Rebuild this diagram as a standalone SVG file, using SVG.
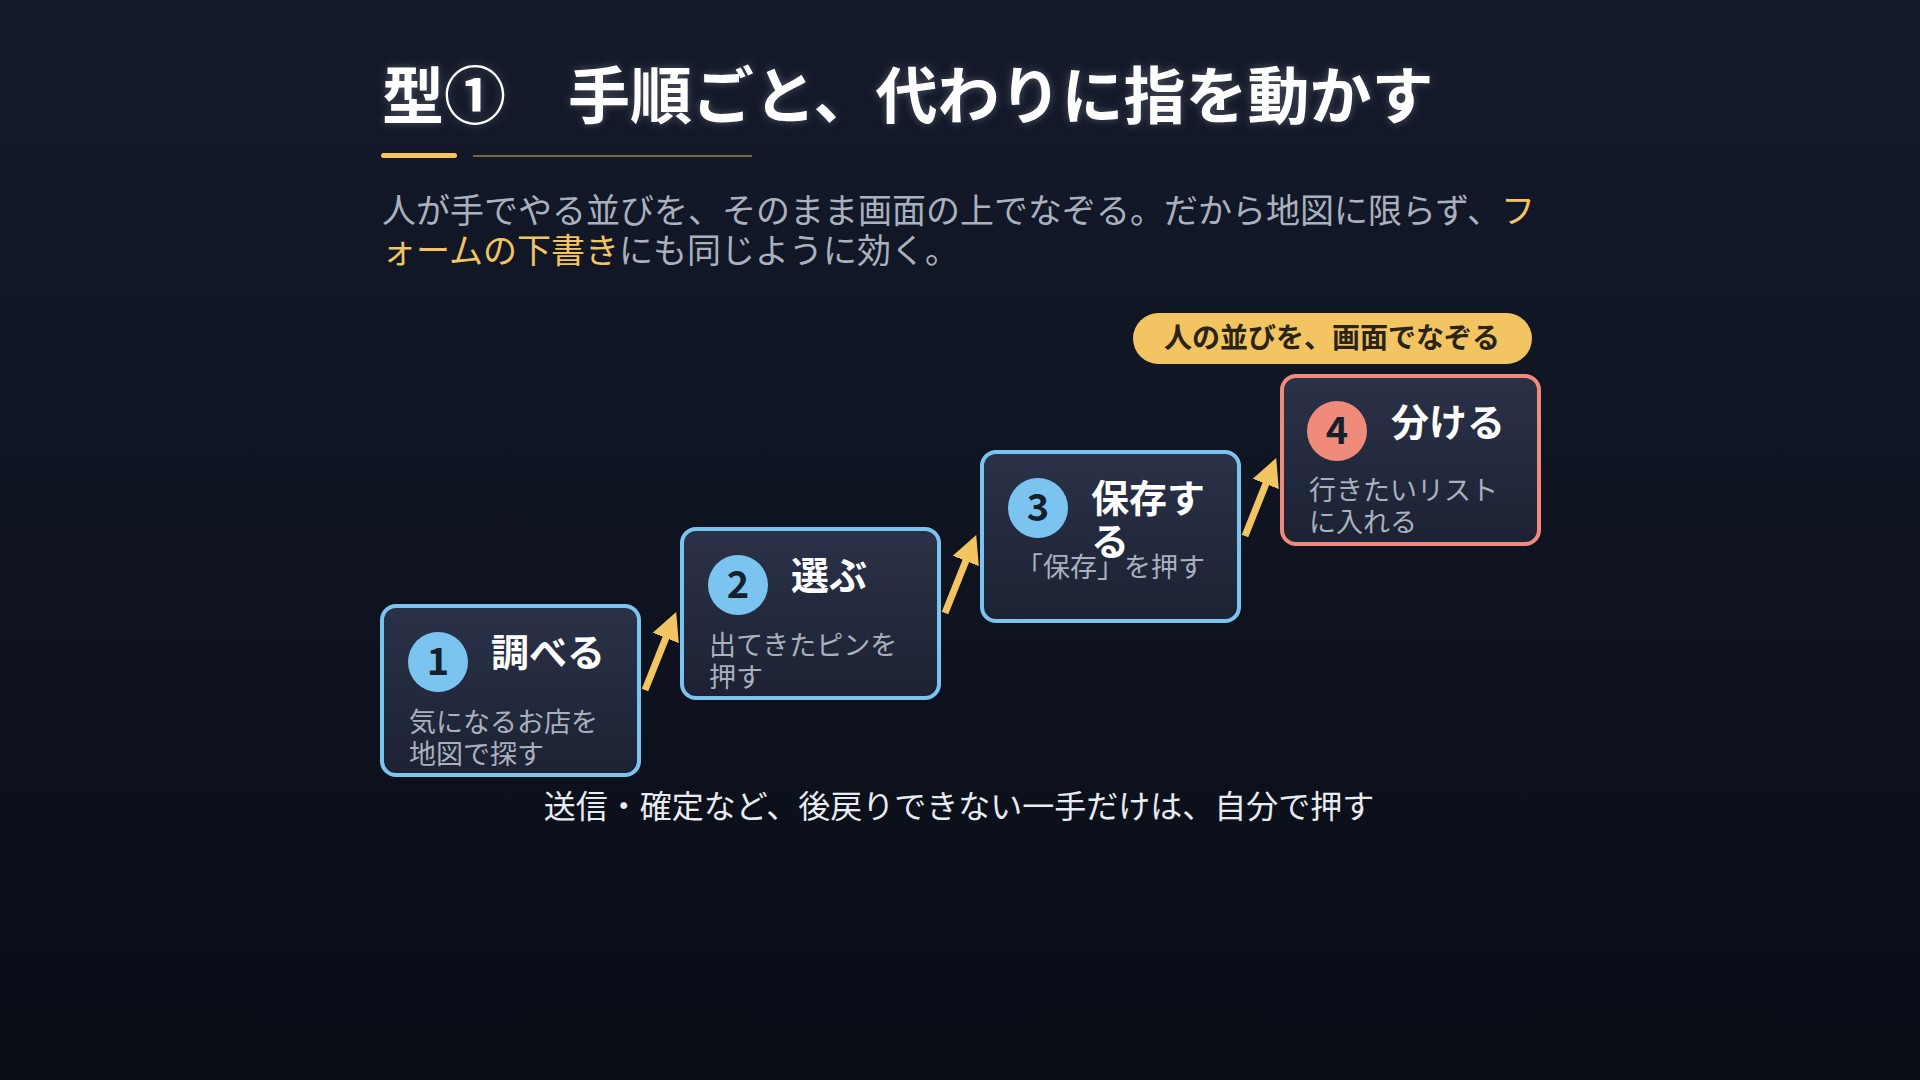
<svg xmlns="http://www.w3.org/2000/svg" width="1920" height="1080" viewBox="0 0 1920 1080">
<defs>
<linearGradient id="bg" x1="0" y1="0" x2="0" y2="1"><stop offset="0" stop-color="#141a2b"/><stop offset="1" stop-color="#0a0d16"/></linearGradient>
<linearGradient id="bx" x1="0" y1="0" x2="0" y2="1"><stop offset="0" stop-color="#2b3248"/><stop offset="1" stop-color="#1c2233"/></linearGradient>
<filter id="glow" x="-20%" y="-20%" width="140%" height="140%"><feGaussianBlur in="SourceAlpha" stdDeviation="6"/><feFlood flood-color="#ffffff" flood-opacity="0.25"/><feComposite operator="in" in2="SourceAlpha"/><feGaussianBlur stdDeviation="4"/><feMerge><feMergeNode/><feMergeNode in="SourceGraphic"/></feMerge></filter>
<marker id="ah" viewBox="0 0 10 10" refX="5" refY="5" markerWidth="4" markerHeight="4" orient="auto"><path d="M0,0 L10,5 L0,10 z" fill="#f2c462"/></marker>
<style>
text{font-family:"Noto Sans CJK JP","Noto Sans",sans-serif}
.t{font-size:38px;font-weight:700;fill:#ffffff}
.d{font-size:27px;fill:#a9b0be}
.n{font-size:38px;font-weight:700;fill:#14202e;text-anchor:middle}
.box{fill:url(#bx);stroke:#7cc4f0;stroke-width:4}
.arr{stroke:#f2c462;stroke-width:7;fill:none;marker-end:url(#ah)}
</style>
</defs>
<rect width="1920" height="1080" fill="url(#bg)"/>
<text x="382" y="119" font-size="62" font-weight="700" fill="#ffffff" filter="url(#glow)">型①　手順ごと、代わりに指を動かす</text>
<rect x="381" y="153" width="76" height="5" rx="2.5" fill="#f2c462"/>
<rect x="473" y="155" width="279" height="2" fill="#7a6a3a"/>
<text x="382" y="223" font-size="34" fill="#a9b0be">人が手でやる並びを、そのまま画面の上でなぞる。だから地図に限らず、<tspan fill="#f2c462">フ</tspan></text>
<text x="382" y="263" font-size="34" fill="#a9b0be"><tspan fill="#f2c462">ォームの下書き</tspan>にも同じように効く。</text>
<g id="pill">
<rect x="1133" y="313" width="399" height="51" rx="25.5" fill="#f2c462"/>
<text x="1332" y="348" font-size="28" font-weight="700" fill="#2a2418" text-anchor="middle">人の並びを、画面でなぞる</text>
</g>
<g id="connectors">
<line class="arr" x1="645" y1="690" x2="671" y2="625"/>
<line class="arr" x1="945" y1="613" x2="971" y2="548"/>
<line class="arr" x1="1245" y1="536" x2="1271" y2="471"/>
</g>
<g id="step1">
<rect class="box" x="382" y="606" width="257" height="169" rx="14"/>
<circle cx="438" cy="662" r="30" fill="#7cc4f0"/><text class="n" x="438" y="675">1</text>
<text class="t" x="491" y="666">調べる</text>
<text class="d" x="409" y="732">気になるお店を</text><text class="d" x="409" y="764">地図で探す</text>
</g>
<g id="step2">
<rect class="box" x="682" y="529" width="257" height="169" rx="14"/>
<circle cx="738" cy="585" r="30" fill="#7cc4f0"/><text class="n" x="738" y="598">2</text>
<text class="t" x="791" y="589">選ぶ</text>
<text class="d" x="709" y="655">出てきたピンを</text><text class="d" x="709" y="687">押す</text>
</g>
<g id="step3">
<rect class="box" x="982" y="452" width="257" height="169" rx="14"/>
<circle cx="1038" cy="508" r="30" fill="#7cc4f0"/><text class="n" x="1038" y="521">3</text>
<text class="t" x="1091" y="512">保存す</text><text class="t" x="1091" y="555">る</text>
<text class="d" x="1016" y="577">「保存」を押す</text>
</g>
<g id="step4">
<rect class="box" x="1282" y="376" width="257" height="168" rx="14" style="stroke:#f08a7a"/>
<circle cx="1337" cy="431" r="30" fill="#f08a7a"/><text class="n" x="1337" y="444">4</text>
<text class="t" x="1391" y="436">分ける</text>
<text class="d" x="1309" y="500">行きたいリスト</text><text class="d" x="1309" y="532">に入れる</text>
</g>
<text x="959" y="818" font-size="32" fill="#e8ebf0" text-anchor="middle">送信・確定など、後戻りできない一手だけは、自分で押す</text>
</svg>
